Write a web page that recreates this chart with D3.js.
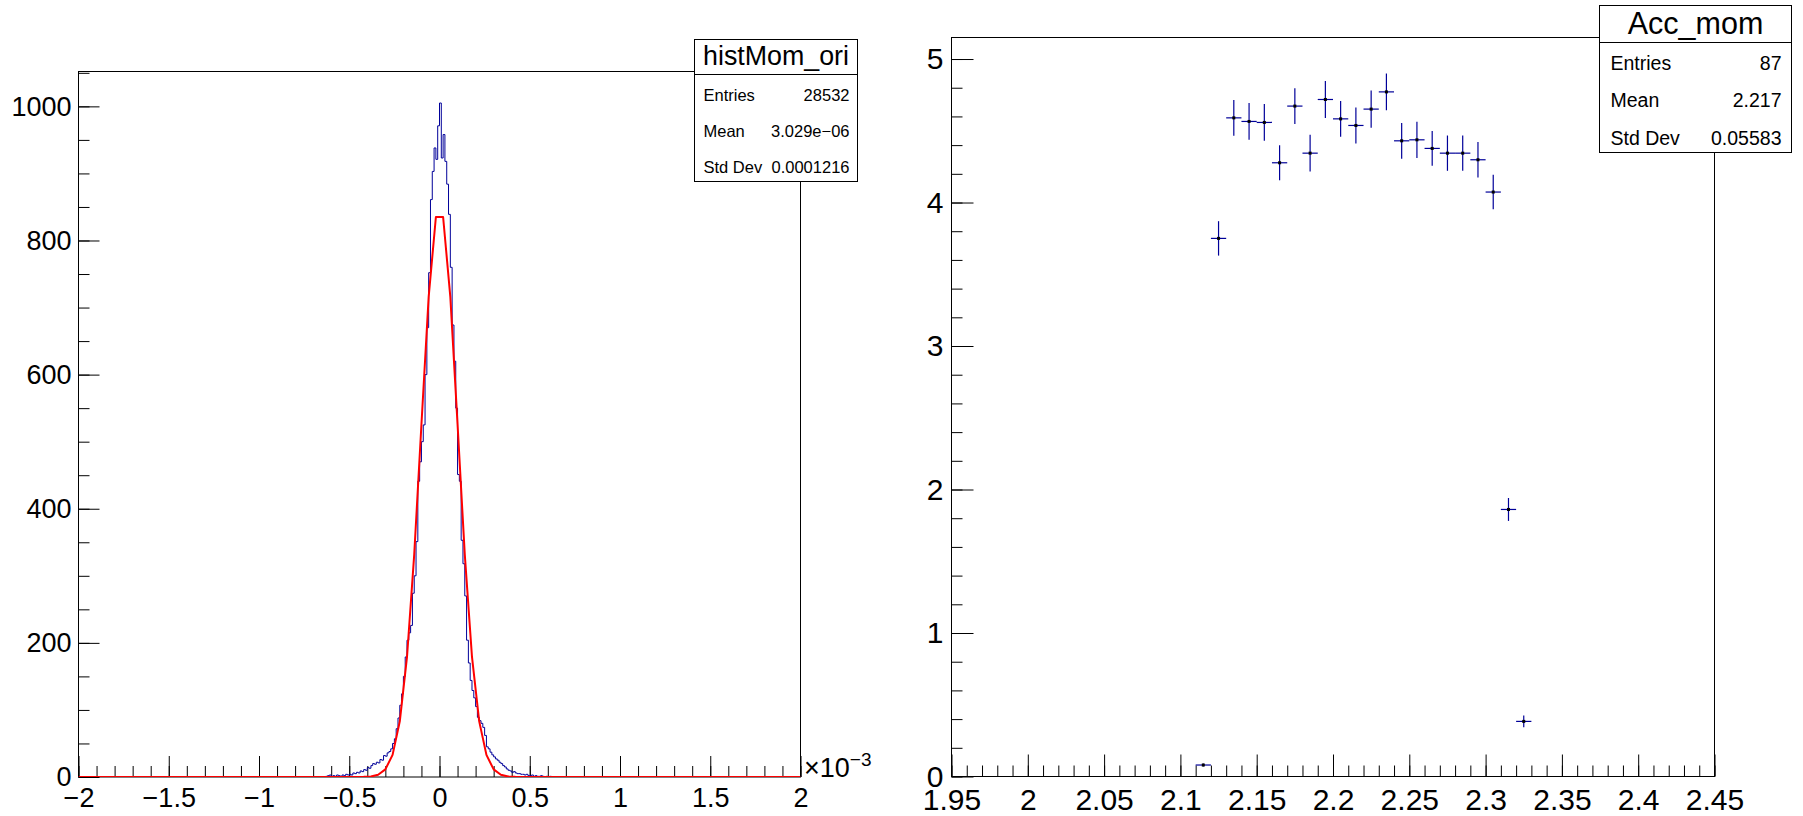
<!DOCTYPE html>
<html><head><meta charset="utf-8">
<script src="https://cdn.jsdelivr.net/npm/d3@7"></script>
<style>body{margin:0;background:#fff;} svg text{font-family:"Liberation Sans",Arial,Helvetica,sans-serif;}</style>
</head><body><svg id="c" width="1803" height="816"></svg>
<script>
// ---------- data: left histogram (x in units of 1e-3) ----------
const histRange = [-2, 2];
const histLowEdge = -0.65;
const histBinWidth = 0.01;
const histCounts = [
  0,0,1,2,3,1,2,1,3,2, 1,3,2,4,3,4,3,6,5,7, 6,9,8,11,10,14,13,17,20,19,
  22,21,26,25,32,31,36,38,42,50, 57,72,88,107,124,150,179,204,215,226,
  274,300,351,441,470,500,525,600,670,752, 861,903,938,921,971,
  1005,923,958,918,884,839,760,674,620,550, 451,441,353,318,270,204,170,144,129,118,
  105,89,84,80,74,62,45,42,37,33, 30,27,25,22,20,17,15,12,10,9,
  7,8,6,5,5,4,4,3,4,2, 2,3,1,2,1,1,2,1,0,1, 0,1,0,0,0
];
const fitX = [-2,-0.42,-0.38,-0.34,-0.30,-0.26,-0.22,-0.18,-0.14,-0.10,-0.06,-0.02,0.02,0.06,0.10,0.14,0.18,0.22,0.26,0.30,0.34,0.38,0.42,2];
const fitY = [0,0.2,0.8,3.3,11.3,33,83,179,332,526,716,835,835,716,526,332,179,83,33,11.3,3.3,0.8,0.2,0];
const leftYMax = 1052;
const leftXTicks = [-2,-1.5,-1,-0.5,0,0.5,1,1.5,2];
const leftYTicks = [0,200,400,600,800,1000];
const leftStats = {title:"histMom_ori", rows:[["Entries","28532"],["Mean","3.029e\u221206"],["Std Dev","0.0001216"]]};

// ---------- data: right profile ----------
const accX = [2.115,2.125,2.135,2.145,2.155,2.165,2.175,2.185,2.195,2.205,2.215,2.225,2.235,2.245,2.255,2.265,2.275,2.285,2.295,2.305,2.315,2.325];
const accY = [0.08,3.75,4.59,4.565,4.558,4.277,4.672,4.344,4.718,4.583,4.537,4.651,4.771,4.430,4.437,4.377,4.344,4.344,4.298,4.073,1.861,0.384];
const accErr = [0.01,0.12,0.125,0.128,0.128,0.122,0.125,0.128,0.129,0.125,0.125,0.130,0.128,0.125,0.126,0.121,0.123,0.123,0.123,0.120,0.080,0.041];
const accBinWidth = 0.01;
const rightXDomain = [1.95, 2.45];
const rightYMax = 5.15;
const rightXTicks = [1.95,2,2.05,2.1,2.15,2.2,2.25,2.3,2.35,2.4,2.45];
const rightYTicks = [0,1,2,3,4,5];
const rightStats = {title:"Acc_mom", rows:[["Entries","87"],["Mean","2.217"],["Std Dev","0.05583"]]};

// ---------- drawing ----------
const svg = d3.select("#c");
svg.append("rect").attr("width",1803).attr("height",816).attr("fill","#fff");
const FONT = '"Liberation Sans",Arial,Helvetica,sans-serif';
const BLUE = "#000099";

function frameAxes(x, y, o){
  const g = svg.append("g");
  const y0 = y.range()[0], x0 = x.range()[0];
  g.append("g").attr("transform",`translate(0,${y0})`)
    .call(d3.axisBottom(x).tickValues(o.xMinor).tickSize(-o.minor).tickFormat(""))
    .call(s=>s.select(".domain").remove());
  g.append("g").attr("transform",`translate(0,${y0})`)
    .attr("font-family",FONT).attr("font-size",o.fs)
    .call(d3.axisBottom(x).tickValues(o.xMajor).tickSize(-o.major).tickPadding(o.xPad).tickFormat(o.xFmt))
    .call(s=>s.select(".domain").remove())
    .call(s=>s.selectAll("text").attr("fill","#000").attr("font-family",FONT).attr("font-size",o.fs));
  g.append("g").attr("transform",`translate(${x0},0)`)
    .call(d3.axisLeft(y).tickValues(o.yMinor).tickSize(-o.minor).tickFormat(""))
    .call(s=>s.select(".domain").remove());
  g.append("g").attr("transform",`translate(${x0},0)`)
    .attr("font-family",FONT).attr("font-size",o.fs)
    .call(d3.axisLeft(y).tickValues(o.yMajor).tickSize(-o.major).tickPadding(o.yPad).tickFormat(o.yFmt))
    .call(s=>s.select(".domain").remove())
    .call(s=>s.selectAll("text").attr("fill","#000").attr("font-family",FONT).attr("font-size",o.fs));
  g.selectAll(".tick line").attr("stroke","#000").attr("stroke-width",1);
  const [xa,xb] = x.range(), [ya,yb] = y.range();
  svg.append("rect").attr("x",xa).attr("y",yb).attr("width",xb-xa).attr("height",ya-yb)
    .attr("fill","none").attr("stroke","#000").attr("stroke-width",1);
}

function statsBox(b, st){
  const g = svg.append("g");
  g.append("rect").attr("x",b.x).attr("y",b.y).attr("width",b.w).attr("height",b.h)
    .attr("fill","#fff").attr("stroke","#000").attr("stroke-width",1);
  g.append("line").attr("x1",b.x).attr("x2",b.x+b.w).attr("y1",b.sep).attr("y2",b.sep)
    .attr("stroke","#000").attr("stroke-width",1);
  g.append("text").attr("x",b.x+b.w/2).attr("y",b.titleBase).attr("text-anchor","middle")
    .attr("font-size",b.tfs).text(st.title);
  st.rows.forEach((r,i)=>{
    const cy = b.row0 + b.rowH*i + b.fs*0.36;
    g.append("text").attr("x",b.x+b.padL).attr("y",cy).attr("font-size",b.fs).text(r[0]);
    g.append("text").attr("x",b.x+b.w-b.padR).attr("y",cy).attr("font-size",b.fs)
      .attr("text-anchor","end").text(r[1]);
  });
}

// ----- left panel -----
const xL = d3.scaleLinear().domain(histRange).range([78.5, 800.5]);
const yL = d3.scaleLinear().domain([0, leftYMax]).range([777, 71.5]);
frameAxes(xL, yL, {
  xMajor:leftXTicks, xMinor:d3.ticks(histRange[0],histRange[1],40),
  yMajor:leftYTicks, yMinor:d3.range(0,leftYMax,50),
  major:21, minor:11, fs:27, xPad:11, yPad:7,
  xFmt:d3.format(""), yFmt:d3.format("")
});
svg.append("clipPath").attr("id","clipL").append("rect")
  .attr("x",78.5).attr("y",71.5).attr("width",722).attr("height",705.5);
const histPts = [[histRange[0],0]];
histCounts.forEach((c,i)=>histPts.push([histLowEdge+i*histBinWidth, c]));
histPts.push([histLowEdge+histCounts.length*histBinWidth, 0]);
histPts.push([histRange[1],0]);
svg.append("path").attr("clip-path","url(#clipL)")
  .attr("d", d3.line().x(d=>xL(d[0])).y(d=>yL(d[1])).curve(d3.curveStepAfter)(histPts))
  .attr("fill","none").attr("stroke",BLUE).attr("stroke-width",1);
svg.append("path").attr("clip-path","url(#clipL)")
  .attr("d", d3.line().x((d,i)=>xL(fitX[i])).y((d,i)=>yL(fitY[i]))(fitX))
  .attr("fill","none").attr("stroke","#ff0000").attr("stroke-width",2).attr("stroke-linejoin","round");
const ex = svg.append("text").attr("x",804).attr("y",777).attr("font-size",27);
ex.append("tspan").text("\u00d710");
ex.append("tspan").attr("dy",-11).attr("font-size",19).text("\u22123");

// ----- right panel -----
const xR = d3.scaleLinear().domain(rightXDomain).range([951.5, 1714.5]);
const yR = d3.scaleLinear().domain([0, rightYMax]).range([776.5, 37.5]);
frameAxes(xR, yR, {
  xMajor:rightXTicks, xMinor:d3.ticks(rightXDomain[0],rightXDomain[1],50),
  yMajor:rightYTicks, yMinor:d3.range(0,rightYMax,0.2),
  major:22, minor:11, fs:30, xPad:12, yPad:8,
  xFmt:d3.format(""), yFmt:d3.format("")
});
const pts = svg.append("g");
accX.forEach((c,i)=>{
  pts.append("line").attr("x1",xR(c-accBinWidth/2)).attr("x2",xR(c+accBinWidth/2))
    .attr("y1",yR(accY[i])).attr("y2",yR(accY[i])).attr("stroke",BLUE).attr("stroke-width",1.2);
  pts.append("line").attr("x1",xR(c)).attr("x2",xR(c))
    .attr("y1",yR(accY[i]-accErr[i])).attr("y2",yR(accY[i]+accErr[i])).attr("stroke",BLUE).attr("stroke-width",1.2);
  pts.append("rect").attr("x",xR(c)-1.5).attr("y",yR(accY[i])-1.5).attr("width",3).attr("height",3).attr("fill","#000");
});

// ----- stats boxes -----
statsBox({x:694.5,y:39.5,w:163,h:142,sep:74.5,titleBase:65,tfs:26.8,fs:16.5,padL:9,padR:8,row0:95.5,rowH:36}, leftStats);
statsBox({x:1599.5,y:5.5,w:192,h:147,sep:42.5,titleBase:34,tfs:30.5,fs:19.5,padL:11,padR:10,row0:62.5,rowH:37.5}, rightStats);
</script></body></html>
